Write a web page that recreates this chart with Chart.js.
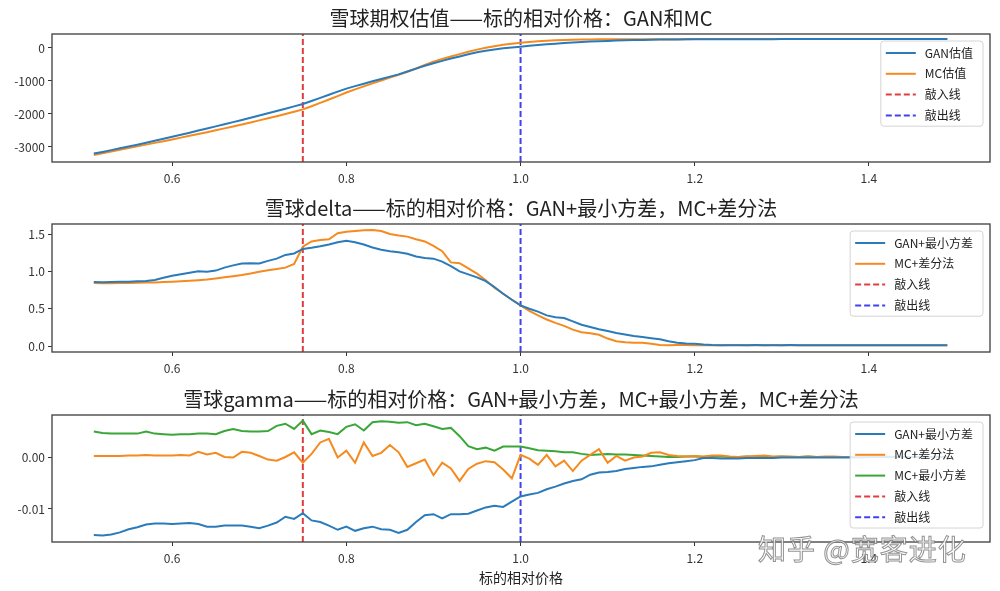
<!DOCTYPE html>
<html>
<head>
<meta charset="utf-8">
<script src="https://cdn.jsdelivr.net/npm/chart.js@4/dist/chart.umd.min.js"></script>
<style>
  html, body { margin: 0; padding: 0; background: #fff; width: 1000px; height: 591px; overflow: hidden; }
  .plot { position: absolute; left: 0; }
  #mark {
    position: absolute; left: 758px; top: 528px;
    font: 28px "Noto Sans CJK SC", sans-serif; letter-spacing: 1px;
    color: rgba(255,255,255,0.85);
    -webkit-text-stroke: 1px rgba(110,110,110,0.75);
  }
</style>
</head>
<body>
<canvas id="chart-value" class="plot" width="1042" height="192" style="top:0px"></canvas>
<canvas id="chart-delta" class="plot" width="1042" height="192" style="top:190px"></canvas>
<canvas id="chart-gamma" class="plot" width="1042" height="210" style="top:381px"></canvas>
<div id="mark">知乎 @宽客进化</div>
<script>
// 标的相对价格 (x 轴)
const prices = [
  0.51,0.52,0.53,0.54,0.55,0.56,0.57,0.58,0.59,0.60,
  0.61,0.62,0.63,0.64,0.65,0.66,0.67,0.68,0.69,0.70,
  0.71,0.72,0.73,0.74,0.75,0.76,0.77,0.78,0.79,0.80,
  0.81,0.82,0.83,0.84,0.85,0.86,0.87,0.88,0.89,0.90,
  0.91,0.92,0.93,0.94,0.95,0.96,0.97,0.98,0.99,1.00,
  1.01,1.02,1.03,1.04,1.05,1.06,1.07,1.08,1.09,1.10,
  1.11,1.12,1.13,1.14,1.15,1.16,1.17,1.18,1.19,1.20,
  1.21,1.22,1.23,1.24,1.25,1.26,1.27,1.28,1.29,1.30,
  1.31,1.32,1.33,1.34,1.35,1.36,1.37,1.38,1.39,1.40,
  1.41,1.42,1.43,1.44,1.45,1.46,1.47,1.48,1.49
];

// 1) 估值
const valueGan = [
  -3200,-3150,-3095,-3040,-2985,-2930,-2870,-2810,-2750,-2690,
  -2628,-2566,-2503,-2440,-2376,-2312,-2247,-2181,-2115,-2048,
  -1980,-1911,-1841,-1770,-1698,-1605,-1512,-1418,-1323,-1230,
  -1155,-1082,-1010,-938,-868,-800,-712,-625,-540,-460,
  -390,-320,-255,-190,-130,-85,-45,-10,15,40,
  65,90,110,130,148,165,180,193,205,215,
  224,232,239,245,250,254,258,261,263,265,
  266,266,267,267,267,268,268,268,268,269,
  269,269,269,269,270,270,270,270,270,270,
  270,270,270,270,270,270,270,270,270
];
const valueMc = [
  -3245,-3190,-3138,-3086,-3034,-2982,-2929,-2876,-2823,-2770,
  -2716,-2662,-2607,-2551,-2494,-2436,-2377,-2317,-2256,-2194,
  -2131,-2067,-2000,-1931,-1860,-1765,-1665,-1562,-1457,-1350,
  -1255,-1163,-1072,-983,-897,-812,-718,-620,-517,-415,
  -335,-260,-185,-115,-50,5,55,95,130,160,
  185,205,220,232,242,250,256,260,263,265,
  266,266,267,267,267,268,268,268,268,269,
  269,269,269,269,270,270,270,270,270,270,
  270,270,270,270,270,270,270,270,270,270,
  270,270,270,270,270,270,270,270,270
];

// 2) delta
const deltaGan = [
  0.857,0.855,0.858,0.860,0.862,0.866,0.870,0.885,0.915,0.940,
  0.960,0.980,1.000,0.995,1.010,1.050,1.080,1.105,1.110,1.105,
  1.140,1.170,1.220,1.240,1.300,1.315,1.335,1.360,1.390,1.410,
  1.390,1.360,1.320,1.290,1.270,1.255,1.235,1.200,1.180,1.170,
  1.130,1.070,1.000,0.960,0.920,0.870,0.790,0.700,0.620,0.545,
  0.500,0.460,0.410,0.385,0.375,0.330,0.285,0.255,0.225,0.200,
  0.175,0.155,0.135,0.120,0.105,0.090,0.065,0.045,0.035,0.030,
  0.020,0.014,0.012,0.012,0.011,0.012,0.013,0.012,0.011,0.012,
  0.013,0.012,0.011,0.011,0.012,0.012,0.011,0.011,0.010,0.011,
  0.011,0.010,0.010,0.010,0.011,0.010,0.010,0.010,0.010
];
const deltaMc = [
  0.843,0.842,0.842,0.843,0.844,0.846,0.849,0.852,0.856,0.861,
  0.866,0.873,0.882,0.892,0.905,0.920,0.935,0.950,0.970,0.995,
  1.015,1.030,1.050,1.100,1.330,1.400,1.420,1.430,1.510,1.530,
  1.540,1.550,1.555,1.540,1.500,1.480,1.465,1.430,1.400,1.340,
  1.270,1.120,1.110,1.040,0.970,0.880,0.780,0.700,0.620,0.545,
  0.470,0.410,0.355,0.310,0.270,0.220,0.185,0.170,0.150,0.100,
  0.065,0.050,0.045,0.045,0.030,0.015,0.012,0.013,0.014,0.012,
  0.012,0.011,0.012,0.013,0.014,0.012,0.011,0.012,0.013,0.012,
  0.011,0.012,0.012,0.011,0.011,0.012,0.011,0.010,0.011,0.011,
  0.010,0.010,0.011,0.010,0.010,0.010,0.010,0.010,0.010
];

// 3) gamma
const gammaGan = [
  -0.0150,-0.0151,-0.0149,-0.0145,-0.0139,-0.0135,-0.0130,-0.0128,-0.0128,-0.0129,
  -0.0128,-0.0127,-0.0129,-0.0134,-0.0134,-0.0132,-0.0132,-0.0132,-0.0134,-0.0137,
  -0.0132,-0.0126,-0.0115,-0.0119,-0.0108,-0.0122,-0.0125,-0.0132,-0.0140,-0.0134,
  -0.0142,-0.0137,-0.0134,-0.0139,-0.0140,-0.0146,-0.0140,-0.0125,-0.0112,-0.0110,
  -0.0118,-0.0110,-0.0110,-0.0109,-0.0103,-0.0097,-0.0094,-0.0096,-0.0086,-0.0076,
  -0.0072,-0.0069,-0.0062,-0.0057,-0.0051,-0.0046,-0.0043,-0.0034,-0.0030,-0.0029,
  -0.0027,-0.0023,-0.0021,-0.0019,-0.0018,-0.0015,-0.0012,-0.0010,-0.0008,-0.0006,
  -0.0002,-0.0002,-0.0003,-0.0003,-0.0003,-0.0002,-0.0002,-0.0002,-0.0002,-0.0001,
  -0.0001,-0.0001,-0.0001,-0.0001,-0.0001,-0.0001,-0.0001,-0.0001,-0.0001,0.0000,
  0.0000,0.0000,0.0000,0.0000,0.0000,0.0000,0.0000,0.0000,0.0000
];
const gammaMcDiff = [
  0.0002,0.0002,0.0002,0.0002,0.0003,0.0003,0.0004,0.0003,0.0003,0.0003,
  0.0004,0.0003,0.0010,0.0005,0.0008,0.0000,-0.0001,0.0010,0.0008,0.0002,
  -0.0005,-0.0007,0.0000,0.0009,-0.0011,0.0006,0.0028,0.0035,-0.0001,0.0012,
  -0.0011,0.0028,0.0002,0.0008,0.0023,0.0009,-0.0019,-0.0012,-0.0005,-0.0035,
  -0.0011,-0.0022,-0.0046,-0.0023,-0.0013,-0.0008,-0.0010,-0.0024,-0.0041,0.0004,
  -0.0003,-0.0015,0.0004,-0.0018,-0.0007,-0.0027,-0.0007,0.0004,0.0015,-0.0011,
  0.0002,-0.0007,-0.0001,0.0001,0.0008,0.0009,0.0004,0.0002,0.0001,0.0002,
  0.0001,0.0003,0.0003,0.0001,0.0000,0.0001,0.0002,0.0003,0.0001,0.0001,
  0.0001,0.0000,0.0001,0.0000,0.0001,0.0001,0.0000,0.0000,0.0001,0.0000,
  0.0000,0.0001,0.0000,0.0000,0.0000,0.0001,0.0000,0.0000,0.0000
];
const gammaMcLs = [
  0.0049,0.0046,0.0045,0.0045,0.0045,0.0045,0.0049,0.0045,0.0044,0.0043,
  0.0044,0.0044,0.0045,0.0045,0.0044,0.0050,0.0054,0.0050,0.0049,0.0049,
  0.0050,0.0060,0.0064,0.0054,0.0070,0.0044,0.0051,0.0048,0.0044,0.0058,
  0.0063,0.0051,0.0067,0.0069,0.0068,0.0066,0.0067,0.0061,0.0064,0.0059,
  0.0054,0.0056,0.0040,0.0021,0.0015,0.0018,0.0012,0.0020,0.0020,0.0020,
  0.0017,0.0013,0.0012,0.0011,0.0009,0.0009,0.0006,0.0004,0.0005,0.0006,
  0.0005,0.0005,0.0004,0.0003,0.0002,0.0001,0.0000,0.0000,0.0001,0.0001,
  0.0000,0.0001,0.0001,0.0000,0.0000,0.0001,0.0000,0.0000,0.0000,0.0001,
  0.0000,0.0000,0.0001,0.0000,0.0000,0.0000,0.0000,0.0000,0.0000,0.0000,
  0.0000,0.0000,0.0000,0.0000,0.0000,0.0000,0.0000,0.0000,0.0000
];

// 敲入 / 敲出 位置
const knockIn = 0.75;
const knockOut = 1.0;

// 刻度
const xTicks = [0.6, 0.8, 1.0, 1.2, 1.4];
const valueTicks = [0, -1000, -2000, -3000];
const deltaTicks = [0, 0.5, 1.0, 1.5];
const gammaTicks = [0, -0.01];

// 颜色 (matplotlib tab10 + r-- / b--)
const cBlue = '#2b7bba';
const cOrange = '#f58a1f';
const cGreen = '#3aa63a';
const cRed = 'rgba(222,40,40,0.9)';
const cDarkBlue = 'rgba(45,45,235,0.9)';

Chart.defaults.font.family = '"Noto Sans CJK SC", "Noto Sans", sans-serif';
Chart.defaults.color = '#222';

// 画四周的边框 (matplotlib spines)
const frame = {
  id: 'frame',
  afterDraw(chart) {
    const { ctx, chartArea: a } = chart;
    ctx.save();
    ctx.strokeStyle = '#4a4a4a';
    ctx.lineWidth = 1.4;
    ctx.strokeRect(a.left, a.top, a.right - a.left, a.bottom - a.top);
    ctx.restore();
  }
};

// 右上角带框的图例
const boxLegend = {
  id: 'boxLegend',
  afterDraw(chart) {
    const { ctx, chartArea: a } = chart;
    const items = chart.data.datasets;
    ctx.save();
    ctx.font = '12px "Noto Sans CJK SC"';
    const textW = Math.max(...items.map(d => ctx.measureText(d.label).width));
    const w = 44 + textW + 10;
    const h = 2 + items.length * 20.8;
    const x = a.right - 7 - w;
    const y = a.top + 7;
    ctx.fillStyle = 'rgba(255,255,255,0.85)';
    ctx.strokeStyle = '#d4d4d4';
    ctx.lineWidth = 1;
    ctx.beginPath();
    ctx.roundRect(x, y, w, h, 3);
    ctx.fill();
    ctx.stroke();
    items.forEach((d, i) => {
      const cy = y + 12 + i * 20.8;
      ctx.strokeStyle = d.borderColor;
      ctx.lineWidth = 2;
      ctx.setLineDash(d.borderDash || []);
      ctx.beginPath();
      ctx.moveTo(x + 5, cy);
      ctx.lineTo(x + 35, cy);
      ctx.stroke();
      ctx.setLineDash([]);
      ctx.fillStyle = '#222';
      ctx.textBaseline = 'middle';
      ctx.fillText(d.label, x + 44, cy);
    });
    ctx.restore();
  }
};

function series(label, values, color) {
  return {
    label: label,
    data: prices.map((p, i) => ({ x: p, y: values[i] })),
    borderColor: color,
    borderWidth: 2,
    pointRadius: 0,
    tension: 0
  };
}

function vline(label, at, yMin, yMax, color) {
  return {
    label: label,
    data: [{ x: at, y: yMin }, { x: at, y: yMax }],
    borderColor: color,
    borderWidth: 2,
    borderDash: [6, 3],
    pointRadius: 0
  };
}

function makeChart(id, title, datasets, yMin, yMax, yTicks, yFmt, xTitle) {
  return new Chart(document.getElementById(id), {
    type: 'line',
    data: { datasets: datasets },
    plugins: [frame, boxLegend],
    options: {
      responsive: false,
      animation: false,
      layout: { padding: 0 },
      plugins: {
        legend: { display: false },
        tooltip: { enabled: false },
        title: {
          display: true,
          text: title,
          color: '#222',
          font: { size: 20, weight: 'normal' },
          padding: { top: 6, bottom: 4 }
        }
      },
      scales: {
        x: {
          type: 'linear',
          min: 0.462,
          max: 1.539,
          afterBuildTicks: s => { s.ticks = xTicks.map(v => ({ value: v })); },
          afterFit: s => { s.height = xTitle ? 49 : 30; },
          ticks: { font: { size: 12 }, color: '#333', padding: 5, callback: v => v.toFixed(1) },
          grid: { display: true, drawOnChartArea: false, drawTicks: true, tickLength: 4, color: '#333' },
          border: { display: false },
          title: {
            display: !!xTitle,
            text: xTitle || '',
            color: '#222',
            font: { size: 14 },
            padding: { top: 0, bottom: 5 }
          }
        },
        y: {
          min: yMin,
          max: yMax,
          afterBuildTicks: s => { s.ticks = yTicks.map(v => ({ value: v })); },
          afterFit: s => { s.width = 52; },
          ticks: { font: { size: 12 }, color: '#333', padding: 3, callback: yFmt },
          grid: { display: true, drawOnChartArea: false, drawTicks: true, tickLength: 4, color: '#333' },
          border: { display: false }
        },
        // 右侧空白轴，与左轴同宽，让标题居中在坐标区上方
        yPad: {
          position: 'right',
          afterFit: s => { s.width = 52; },
          ticks: { display: false },
          grid: { display: false },
          border: { display: false }
        }
      }
    }
  });
}

document.addEventListener('DOMContentLoaded', function() {
  // 3.1) 估值
  makeChart('chart-value', '雪球期权估值——标的相对价格：GAN和MC', [
    series('GAN估值', valueGan, cBlue),
    series('MC估值', valueMc, cOrange),
    vline('敲入线', knockIn, -3455, 424, cRed),
    vline('敲出线', knockOut, -3455, 424, cDarkBlue)
  ], -3455, 424, valueTicks, v => String(v));

  // 3.2) delta
  makeChart('chart-delta', '雪球delta——标的相对价格：GAN+最小方差，MC+差分法', [
    series('GAN+最小方差', deltaGan, cBlue),
    series('MC+差分法', deltaMc, cOrange),
    vline('敲入线', knockIn, -0.08, 1.634, cRed),
    vline('敲出线', knockOut, -0.08, 1.634, cDarkBlue)
  ], -0.08, 1.634, deltaTicks, v => v.toFixed(1));

  // 3.3) gamma
  makeChart('chart-gamma', '雪球gamma——标的相对价格：GAN+最小方差，MC+最小方差，MC+差分法', [
    series('GAN+最小方差', gammaGan, cBlue),
    series('MC+差分法', gammaMcDiff, cOrange),
    series('MC+最小方差', gammaMcLs, cGreen),
    vline('敲入线', knockIn, -0.01635, 0.00808, cRed),
    vline('敲出线', knockOut, -0.01635, 0.00808, cDarkBlue)
  ], -0.01635, 0.00808, gammaTicks, v => v.toFixed(2), '标的相对价格');
});
</script>
</body>
</html>
